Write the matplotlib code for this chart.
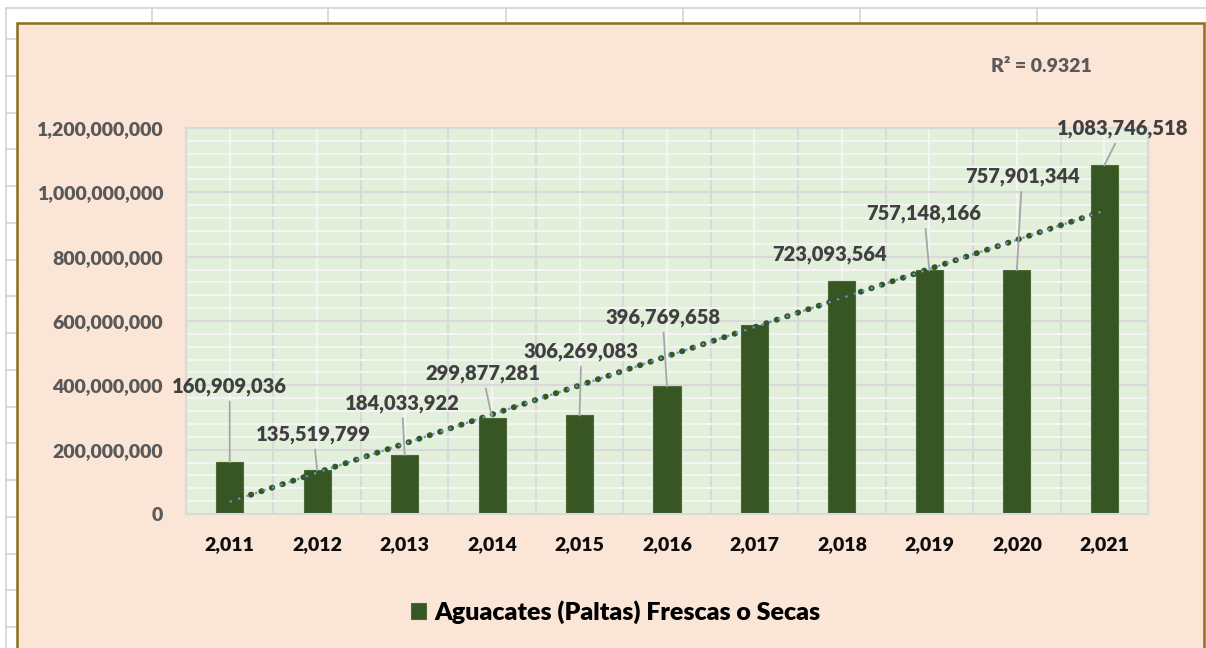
import matplotlib
matplotlib.use("Agg")
import matplotlib.pyplot as plt
import numpy as np
from matplotlib.lines import Line2D
from matplotlib.patches import Rectangle
from matplotlib.ticker import FuncFormatter, MultipleLocator

plt.rcParams["font.family"] = ["Lato", "DejaVu Sans"]

# data
years = [2011, 2012, 2013, 2014, 2015, 2016, 2017, 2018, 2019, 2020, 2021]
exports = [160909036, 135519799, 184033922, 299877281, 306269083, 396769658,
           589000000, 723093564, 757148166, 757901344, 1083746518]
show_label = [True, True, True, True, True, True, False, True, True, True, True]
series_name = "Aguacates (Paltas) Frescas o Secas"
r2_text = "R² = 0.9321"

# where each data label sits (x in categories, y in axis units) and leader lines
label_xy = [(0.0, 3.97e8), (0.96, 2.48e8), (1.97, 3.44e8), (2.89, 4.37e8),
            (4.02, 5.05e8), (4.95, 6.11e8), (6.0, 6.5e8), (6.86, 8.06e8),
            (7.94, 9.33e8), (9.06, 10.48e8), (10.21, 11.97e8)]
leader = [True, True, True, True, True, True, False, False, True, True, True]

BOLD = "heavy"
W, H = 1206, 648


def fx(px):
    return px / W


def fy(py):
    return 1 - py / H


fig = plt.figure(figsize=(W / 100, H / 100), dpi=100)
fig.patch.set_facecolor("white")

# spreadsheet cells behind the chart
grid_kw = dict(color="#D4D4D4", lw=1.2, transform=fig.transFigure, zorder=-3)
fig.add_artist(Line2D([fx(6), 1], [fy(8), fy(8)], **grid_kw))
fig.add_artist(Line2D([fx(6), fx(6)], [fy(8), 0], **grid_kw))
for x in [152, 328, 506, 683, 860, 1037]:
    fig.add_artist(Line2D([fx(x), fx(x)], [fy(8), fy(23)], **grid_kw))
for y in np.arange(39, H, 36.75):
    fig.add_artist(Line2D([fx(6), fx(17)], [fy(y), fy(y)], **grid_kw))

# chart area
fig.add_artist(Rectangle((fx(17), fy(660)), fx(1204) - fx(17), fy(23) - fy(660),
                         transform=fig.transFigure, facecolor="#FBE5D6",
                         edgecolor="#8B6F1E", lw=1.8, zorder=-1))

ax = fig.add_axes([fx(186), fy(514), fx(1148) - fx(186), fy(128) - fy(514)])
ax.set_facecolor("#E2EFDA")

xs = np.arange(len(years))
ax.bar(xs, exports, width=0.31, color="#375623", edgecolor="#4A6B35",
       lw=0.8, zorder=2, label=series_name)

# linear trend
coef = np.polyfit(xs, exports, 1)
xt = np.array([xs[0], xs[-1]])
ax.plot(xt, np.polyval(coef, xt), color="#375623", lw=4.2,
        linestyle=(0, (0.1, 1.8)), dash_capstyle="round", zorder=3)
ax.plot(xt, np.polyval(coef, xt), color="#5B9BD5", lw=1.6,
        linestyle=(0, (1, 3)), zorder=4)

for i, v in enumerate(exports):
    if not show_label[i]:
        continue
    arrow = None
    if leader[i]:
        arrow = dict(arrowstyle="-", color="#A6A6A6", lw=1.3, shrinkA=2, shrinkB=0)
    ax.annotate(f"{v:,}", xy=(i, v), xytext=label_xy[i], ha="center", va="center",
                fontsize=14.5, fontweight=BOLD, color="#404040",
                arrowprops=arrow, zorder=5, annotation_clip=False)

ax.set_xlim(-0.5, 10.5)
ax.set_ylim(0, 1.2e9)
ax.set_xticks(xs)
ax.set_xticklabels([f"{y:,}" for y in years])
ax.xaxis.set_minor_locator(MultipleLocator(1, offset=0.5))
ax.yaxis.set_major_locator(MultipleLocator(2e8))
ax.yaxis.set_minor_locator(MultipleLocator(4e7))
ax.yaxis.set_major_formatter(FuncFormatter(lambda v, p: f"{v:,.0f}"))

ax.set_axisbelow(True)
ax.grid(which="major", axis="y", color="#D9D9D9", lw=1.5)
ax.grid(which="minor", axis="y", color="#F4F4F4", lw=1.5)
ax.grid(which="major", axis="x", color="#F4F4F4", lw=1.5)
ax.grid(which="minor", axis="x", color="#D9D9D9", lw=1.5)
ax.tick_params(which="both", length=0)
ax.tick_params(axis="y", pad=16.5, labelsize=14, labelcolor="#595959")
ax.tick_params(axis="x", pad=16, labelsize=14, labelcolor="#0D0D0D")
for lab in ax.get_xticklabels() + ax.get_yticklabels():
    lab.set_fontweight(BOLD)
for sp in ax.spines.values():
    sp.set_color("#D9D9D9")
    sp.set_linewidth(1.5)

ax.legend(loc="center", bbox_to_anchor=(fx(615.5), fy(612)),
          bbox_transform=fig.transFigure, frameon=False,
          prop={"weight": BOLD, "size": 18},
          handlelength=0.62, handleheight=0.62, handletextpad=0.3)

fig.text(fx(1041), fy(67), r2_text, ha="center", va="center",
         fontsize=14, fontweight=BOLD, color="#595959")

fig.savefig("out.png", dpi=100)
